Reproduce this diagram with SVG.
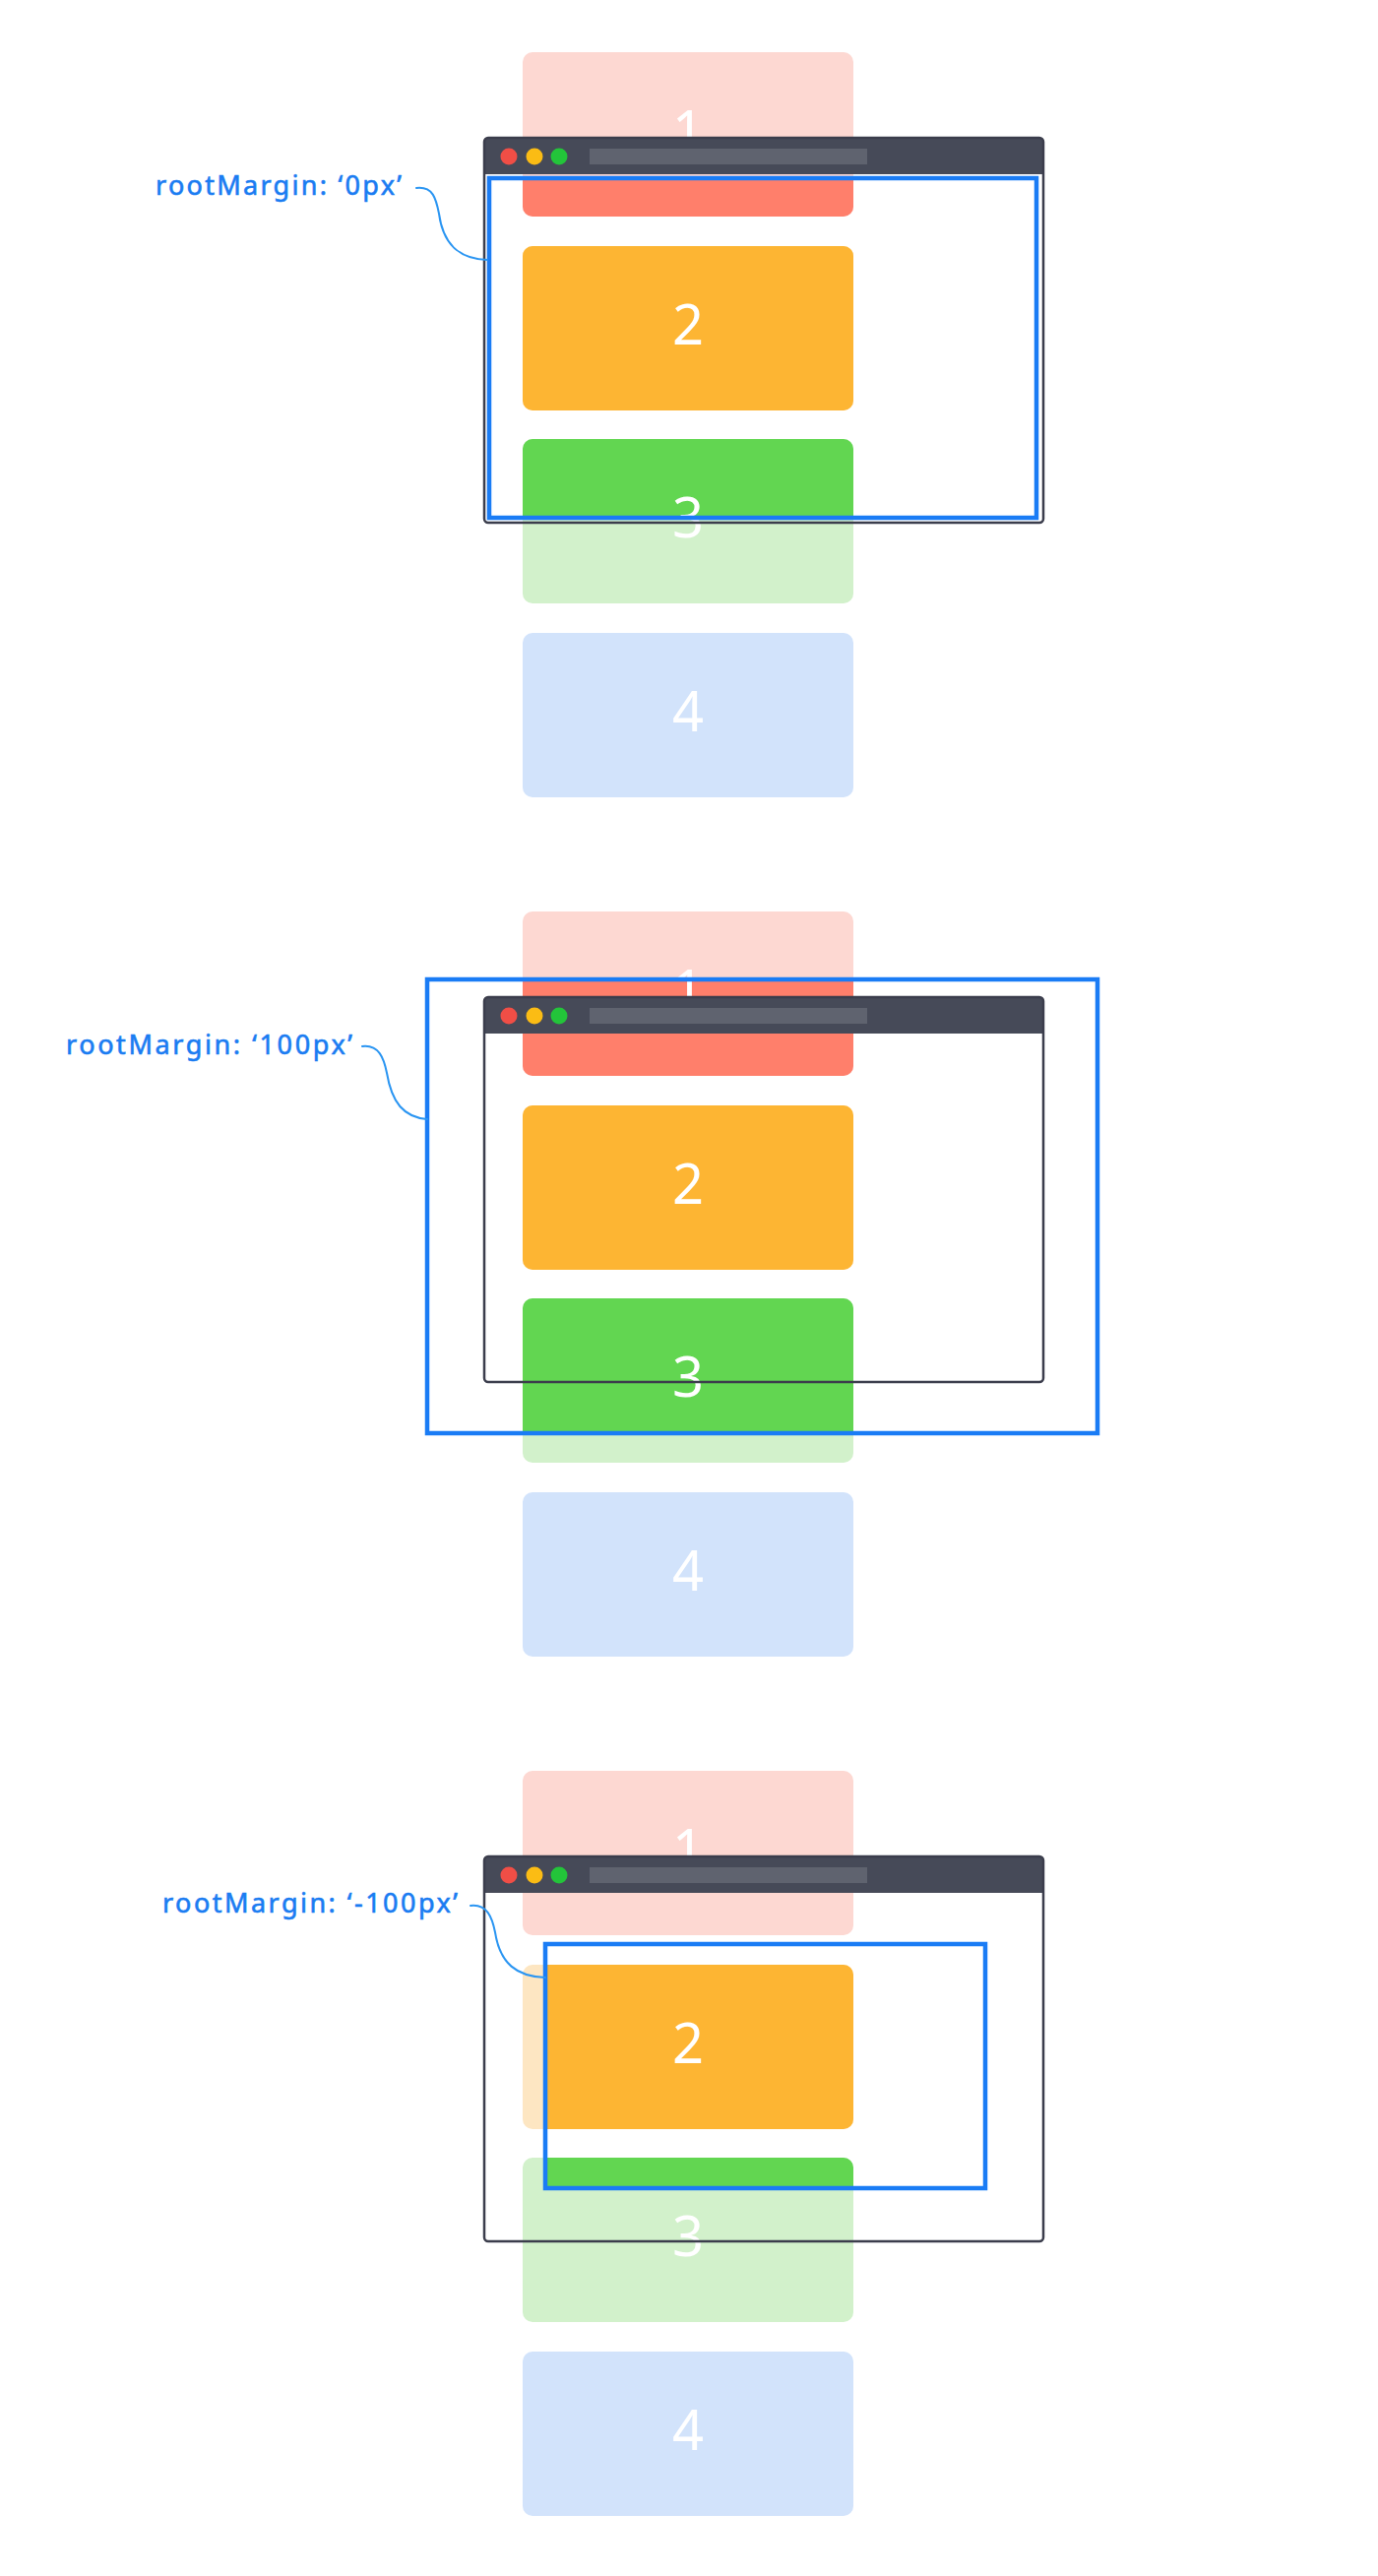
<svg xmlns="http://www.w3.org/2000/svg" width="1400" height="2617" viewBox="0 0 1400 2617">
  <style>
    .digit { font-family: "Noto Sans", "Open Sans", sans-serif; font-size: 56px; fill: #ffffff; text-anchor: middle; }
    .label { font-family: "Noto Sans", "Open Sans", sans-serif; font-size: 27px; fill: #1A7CF2; stroke: #1A7CF2; stroke-width: 0.6; }
    .conn { fill: none; stroke: #2A95F2; stroke-width: 2; stroke-linecap: round; }
    .margin { fill: none; stroke: #1A7CF5; stroke-width: 4.5; }
    .frame { fill: none; stroke: #3B3D4C; stroke-width: 2.5; }
    .bar { fill: #464A58; }
    .addr { fill: #5F636F; }
    .f1 { fill: #FDD8D2; } .c1 { fill: #FF7F6B; }
    .f2 { fill: #FDE6C2; } .c2 { fill: #FDB533; }
    .f3 { fill: #D2F1CB; } .c3 { fill: #62D651; }
    .f4 { fill: #D2E3FB; }
  </style>
  <defs>
    <clipPath id="clipA"><rect x="497" y="181" width="556" height="345"/></clipPath>
    <clipPath id="clipB"><rect x="434" y="122" width="681" height="461"/></clipPath>
    <clipPath id="clipC"><rect x="554" y="229" width="447" height="248"/></clipPath>
    <g id="browser">
      <path class="bar" d="M 492 177 V 144 Q 492 140 496 140 H 1056 Q 1060 140 1060 144 V 177 Z"/>
      <rect class="addr" x="599" y="151" width="282" height="16"/>
      <circle cx="517" cy="159" r="8.5" fill="#F04E46"/>
      <circle cx="543" cy="159" r="8.5" fill="#FBBC14"/>
      <circle cx="568" cy="159" r="8.5" fill="#23C43A"/>
      <rect class="frame" x="492" y="140" width="568" height="391" rx="4"/>
    </g>
  </defs>
  <rect width="1400" height="2617" fill="#ffffff"/>

  <!-- Section 1: rootMargin 0px -->
  <g id="section-0px">
    <g id="s1-box1">
      <rect class="f1" x="531" y="53" width="336" height="167" rx="10"/>
      <rect class="c1" x="531" y="53" width="336" height="167" rx="10" clip-path="url(#clipA)"/>
      <text class="digit" x="699" y="153">1</text>
    </g>
    <g id="s1-box2">
      <rect class="f2" x="531" y="250" width="336" height="167" rx="10"/>
      <rect class="c2" x="531" y="250" width="336" height="167" rx="10" clip-path="url(#clipA)"/>
      <text class="digit" x="699" y="350">2</text>
    </g>
    <g id="s1-box3">
      <rect class="f3" x="531" y="446" width="336" height="167" rx="10"/>
      <rect class="c3" x="531" y="446" width="336" height="167" rx="10" clip-path="url(#clipA)"/>
      <text class="digit" x="699" y="546">3</text>
    </g>
    <g id="s1-box4">
      <rect class="f4" x="531" y="643" width="336" height="167" rx="10"/>
      <text class="digit" x="699" y="743">4</text>
    </g>
    <g id="s1-browser"><use href="#browser"/></g>
    <g id="s1-root">
      <rect class="margin" x="497" y="181" width="556" height="345"/>
    </g>
    <g id="s1-label">
      <text class="label" x="158" y="198" textLength="250" lengthAdjust="spacing">rootMargin: ‘0px’</text>
    </g>
    <g id="s1-connectors">
      <path class="conn" d="M 423 191 C 440 189, 443 202, 446 217 C 450 247, 465 263, 495 264"/>
    </g>
  </g>

  <!-- Section 2: rootMargin 100px -->
  <g id="section-100px" transform="translate(0,873)">
    <g id="s2-box1">
      <rect class="f1" x="531" y="53" width="336" height="167" rx="10"/>
      <rect class="c1" x="531" y="53" width="336" height="167" rx="10" clip-path="url(#clipB)"/>
      <text class="digit" x="699" y="153">1</text>
    </g>
    <g id="s2-box2">
      <rect class="f2" x="531" y="250" width="336" height="167" rx="10"/>
      <rect class="c2" x="531" y="250" width="336" height="167" rx="10" clip-path="url(#clipB)"/>
      <text class="digit" x="699" y="350">2</text>
    </g>
    <g id="s2-box3">
      <rect class="f3" x="531" y="446" width="336" height="167" rx="10"/>
      <rect class="c3" x="531" y="446" width="336" height="167" rx="10" clip-path="url(#clipB)"/>
      <text class="digit" x="699" y="546">3</text>
    </g>
    <g id="s2-box4">
      <rect class="f4" x="531" y="643" width="336" height="167" rx="10"/>
      <text class="digit" x="699" y="743">4</text>
    </g>
    <g id="s2-browser"><use href="#browser"/></g>
    <g id="s2-root">
      <rect class="margin" x="434" y="122" width="681" height="461"/>
    </g>
    <g id="s2-label">
      <text class="label" x="67" y="198" textLength="291" lengthAdjust="spacing">rootMargin: ‘100px’</text>
    </g>
    <g id="s2-connectors">
      <path class="conn" d="M 368 190 C 385 188, 390 202, 393 217 C 398 247, 410 262, 434 264"/>
    </g>
  </g>

  <!-- Section 3: rootMargin -100px -->
  <g id="section-neg100px" transform="translate(0,1746)">
    <g id="s3-box1">
      <rect class="f1" x="531" y="53" width="336" height="167" rx="10"/>
      <rect class="c1" x="531" y="53" width="336" height="167" rx="10" clip-path="url(#clipC)"/>
      <text class="digit" x="699" y="153">1</text>
    </g>
    <g id="s3-box2">
      <rect class="f2" x="531" y="250" width="336" height="167" rx="10"/>
      <rect class="c2" x="531" y="250" width="336" height="167" rx="10" clip-path="url(#clipC)"/>
      <text class="digit" x="699" y="350">2</text>
    </g>
    <g id="s3-box3">
      <rect class="f3" x="531" y="446" width="336" height="167" rx="10"/>
      <rect class="c3" x="531" y="446" width="336" height="167" rx="10" clip-path="url(#clipC)"/>
      <text class="digit" x="699" y="546">3</text>
    </g>
    <g id="s3-box4">
      <rect class="f4" x="531" y="643" width="336" height="167" rx="10"/>
      <text class="digit" x="699" y="743">4</text>
    </g>
    <g id="s3-browser"><use href="#browser"/></g>
    <g id="s3-root">
      <rect class="margin" x="554" y="229" width="447" height="248"/>
    </g>
    <g id="s3-label">
      <text class="label" x="165" y="197" textLength="300" lengthAdjust="spacing">rootMargin: ‘-100px’</text>
    </g>
    <g id="s3-connectors">
      <path class="conn" d="M 478 190 C 495 188, 500 202, 503 217 C 508 249, 525 262, 554 263"/>
    </g>
  </g>
</svg>
